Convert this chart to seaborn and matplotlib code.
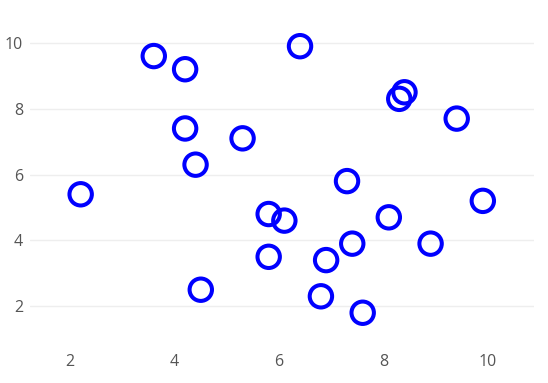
import matplotlib
matplotlib.use("Agg")
import matplotlib.pyplot as plt
import seaborn as sns
import pandas as pd

# values
x_vals = [2.2, 3.6, 4.2, 6.4, 4.2, 4.4, 5.3, 8.4, 8.3, 9.4, 7.3,
          9.9, 5.8, 6.1, 8.1, 7.4, 8.9, 5.8, 6.9, 4.5, 6.8, 7.6]
y_vals = [5.4, 9.6, 9.2, 9.9, 7.4, 6.3, 7.1, 8.5, 8.3, 7.7, 5.8,
          5.2, 4.8, 4.6, 4.7, 3.9, 3.9, 3.5, 3.4, 2.5, 2.3, 1.8]
x_ticks = [2, 4, 6, 8, 10]
y_ticks = [2, 4, 6, 8, 10]

df = pd.DataFrame({"x": x_vals, "y": y_vals})

sns.set_style("white")
plt.rcParams['font.family'] = ['Open Sans', 'DejaVu Sans']

fig = plt.figure(figsize=(5.48, 3.83), dpi=100)
ax = fig.add_axes([30 / 548, 1 - 345 / 383, 504 / 548, 335 / 383])

sns.scatterplot(data=df, x="x", y="y", ax=ax, s=260, marker="o",
                facecolors="none", edgecolor="#0000ff", linewidth=2.9,
                zorder=3)

ax.set_xlim(1.23, 10.88)
ax.set_ylim(0.82, 11.0)
ax.set_xticks(x_ticks)
ax.set_yticks(y_ticks)
ax.set_xlabel("")
ax.set_ylabel("")
for s in ax.spines.values():
    s.set_visible(False)
ax.grid(axis="y", color="#eeeeee", linewidth=1)
ax.grid(axis="x", visible=False)
ax.tick_params(axis="both", length=0, labelsize=11.5, labelcolor="#555555")
ax.tick_params(axis="x", pad=6.5)
ax.tick_params(axis="y", pad=5)

fig.savefig("out.png", dpi=100)
